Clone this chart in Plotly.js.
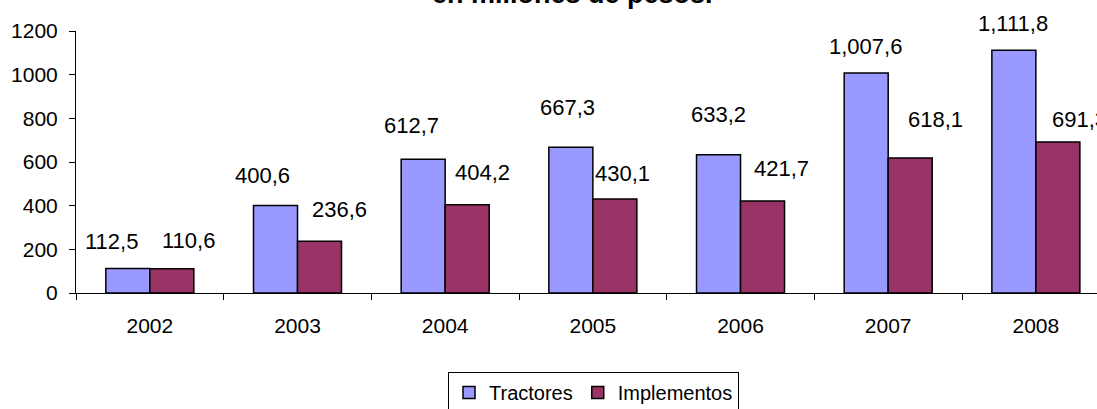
<!DOCTYPE html>
<html>
<head>
<meta charset="utf-8">
<script src="https://cdn.plot.ly/plotly-3.0.1.min.js"></script>
<style>
html,body{margin:0;padding:0;background:#fff;}
#chart{width:1097px;height:409px;}
</style>
</head>
<body>
<div id="chart"></div>
<script>
// ---- data ----
var years = ['2002','2003','2004','2005','2006','2007','2008'];
var tractores = [112.5, 400.6, 612.7, 667.3, 633.2, 1007.6, 1111.8];
var implementos = [110.6, 236.6, 404.2, 430.1, 421.7, 618.1, 691.3];
var yTicks = [0, 200, 400, 600, 800, 1000, 1200];
var seriesNames = ['Tractores', 'Implementos'];
var titleText = 'en millones de pesos.';

// ---- style: label nudges (px) relative to bar top centre ----
var tracXShift = [-16, -13, -12, -3, 0, -1, -1];
var tracYShift = [27, 30, 34, 40, 40, 27, 27];
var implXShift = [17, 20, 15, 8, 19, 25, 22];
var implYShift = [28, 32, 32, 26, 32, 39, 23];
var halfBar = 22;

function fmt(v) {
  var s = v.toFixed(1).split('.');
  var intPart = s[0].replace(/\B(?=(\d{3})+(?!\d))/g, ',');
  return intPart + ',' + s[1];
}

var FONT = 'Liberation Sans, Arial, sans-serif';

var traces = [
  {
    type: 'bar', name: seriesNames[0], x: years, y: tractores,
    marker: {color: '#9999FF', line: {color: '#000000', width: 1.5}},
    hoverinfo: 'none'
  },
  {
    type: 'bar', name: seriesNames[1], x: years, y: implementos,
    marker: {color: '#993366', line: {color: '#000000', width: 1.5}},
    hoverinfo: 'none'
  }
];

var annotations = [];
years.forEach(function (yr, i) {
  annotations.push({
    x: i, y: tractores[i], xref: 'x', yref: 'y',
    text: fmt(tractores[i]), showarrow: false,
    xanchor: 'center', yanchor: 'middle',
    xshift: -halfBar + tracXShift[i], yshift: tracYShift[i],
    font: {family: FONT, size: 22, color: '#000'}
  });
  annotations.push({
    x: i, y: implementos[i], xref: 'x', yref: 'y',
    text: fmt(implementos[i]), showarrow: false,
    xanchor: 'center', yanchor: 'middle',
    xshift: halfBar + implXShift[i], yshift: implYShift[i],
    font: {family: FONT, size: 22, color: '#000'}
  });
});
annotations.push({
  x: 0.486, y: 1, xref: 'paper', yref: 'paper',
  text: '<b>' + titleText + '</b>', showarrow: false,
  xanchor: 'center', yanchor: 'middle', yshift: 37,
  font: {family: FONT, size: 27, color: '#000'}
});

var layout = {
  width: 1097, height: 409,
  margin: {l: 76, r: 0, t: 31, b: 116, pad: 0, autoexpand: false},
  paper_bgcolor: '#fff', plot_bgcolor: '#fff',
  font: {family: FONT, size: 20, color: '#000'},
  showlegend: true,
  barmode: 'group', bargap: 0.404, bargroupgap: 0,
  xaxis: {
    type: 'category', range: [-0.5, 6.414], automargin: false,
    showline: true, linecolor: '#000', linewidth: 1,
    ticks: 'outside', tickson: 'boundaries', ticklen: 6, tickcolor: '#000', tickwidth: 1,
    ticklabelstandoff: 14,
    showgrid: false, zeroline: false, fixedrange: true,
    tickfont: {family: FONT, size: 21, color: '#000'}
  },
  yaxis: {
    range: [0, 1200], tickvals: yTicks, ticktext: yTicks.map(String), automargin: false,
    showline: true, linecolor: '#000', linewidth: 1,
    ticks: 'outside', ticklen: 6, tickcolor: '#000', tickwidth: 1,
    ticklabelstandoff: 7,
    showgrid: false, zeroline: false, fixedrange: true,
    tickfont: {family: FONT, size: 21, color: '#000'}
  },
  legend: {
    orientation: 'h', x: (448 - 76) / 1021, xanchor: 'left',
    y: (293 - 372) / 262, yanchor: 'top',
    bordercolor: '#000', borderwidth: 1, bgcolor: '#fff',
    font: {family: FONT, size: 20, color: '#000'},
    itemwidth: 30, tracegroupgap: 0
  },
  annotations: annotations
};

Plotly.newPlot('chart', traces, layout, {staticPlot: true, displayModeBar: false});
</script>
</body>
</html>
